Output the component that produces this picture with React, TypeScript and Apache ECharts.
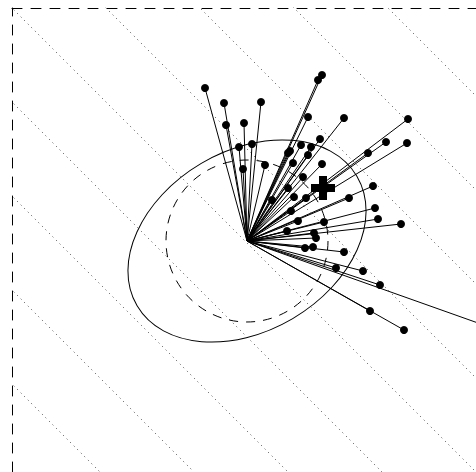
import React, { useEffect, useRef } from "react";
import * as echarts from "echarts";

// Spoke end points (relative to the common origin at 0,0; y up)
const spokeX = [-42, -23, 14, -21, -3, -8, 5, -4, 18, 75, 71, 61, 97, 161, 139, 160, 121, 73, 54, 64, 43, 41, 61, 46, 75, 56, 41, 47, 59, 25, 126, 102, 44, 128, 131, 77, 51, 154, 40, 67, 69, 58, 66, 97, 89, 116, 133, 123, 157];
const spokeY = [153, 138, 139, 116, 118, 94, 97, 72, 76, 166, 161, 124, 123, 122, 99, 98, 88, 102, 96, 94, 90, 88, 86, 78, 77, 64, 53, 44, 43, 41, 55, 43, 30, 33, 22, 19, 20, 17, 10, 8, 3, -7, -6, -11, -27, -30, -44, -70, -89];
// Spoke whose end lies outside the frame (no visible dot)
const openSpokeX = [262];
const openSpokeY = [-93];

const meanPoint = [76, 53];
const ellipseAxes = [127.5, 90];
const ellipseAngleDeg = 30.5;
const circleRadius = 81;
const diagonalIntercepts = [374, 280, 186, 92, -2, -96, -190, -284, -378];
const xRange = [-235, 229];
const yRange = [-231, 233];

const PLUS = "path://M8,0 H16 V8 H24 V16 H16 V24 H8 V16 H0 V8 H8 Z";

export default function App() {
  const ref = useRef<HTMLDivElement>(null);
  useEffect(() => {
    if (!ref.current) return;
    const chart = echarts.init(ref.current, null, { renderer: "svg" });
    const spokeData = spokeX.map((x, i) => ({ coords: [[0, 0], [x, spokeY[i]]] }));
    const openData = openSpokeX.map((x, i) => ({ coords: [[0, 0], [x, openSpokeY[i]]] }));
    const axisBase = {
      type: "value",
      axisLine: { show: true, onZero: false, lineStyle: { color: "#000", width: 1, type: [10, 9] } },
      axisTick: { show: false },
      axisLabel: { show: false },
      splitLine: { show: false },
    };
    chart.setOption({
      animation: false,
      grid: { left: 12, top: 8, right: 0, bottom: 0 },
      xAxis: { ...axisBase, min: xRange[0], max: xRange[1], position: "top" },
      yAxis: { ...axisBase, min: yRange[0], max: yRange[1], position: "left" },
      series: [
        {
          type: "lines",
          coordinateSystem: "cartesian2d",
          clip: true,
          silent: true,
          z: 1,
          lineStyle: { color: "#444", width: 1, type: [1, 4], opacity: 1 },
          data: diagonalIntercepts.map((k) => ({ coords: [[-700, 700 + k], [700, -700 + k]] })),
        },
        {
          type: "custom",
          coordinateSystem: "cartesian2d",
          silent: true,
          z: 2,
          data: [[0, 0]],
          renderItem: (params: any, api: any) => {
            const c = api.coord([0, 0]);
            const rx = api.size([ellipseAxes[0], 0])[0];
            const ry = api.size([0, ellipseAxes[1]])[1];
            const r = api.size([circleRadius, 0])[0];
            return {
              type: "group",
              children: [
                {
                  type: "ellipse",
                  x: c[0],
                  y: c[1],
                  rotation: (ellipseAngleDeg * Math.PI) / 180,
                  shape: { cx: 0, cy: 0, rx, ry },
                  style: { fill: "none", stroke: "#000", lineWidth: 1 },
                },
                {
                  type: "circle",
                  shape: { cx: c[0], cy: c[1], r },
                  style: { fill: "none", stroke: "#000", lineWidth: 1, lineDash: [9, 8] },
                },
              ],
            };
          },
        },
        {
          type: "lines",
          coordinateSystem: "cartesian2d",
          clip: true,
          silent: true,
          z: 3,
          lineStyle: { color: "#000", width: 1, opacity: 1 },
          data: [...spokeData, ...openData],
        },
        {
          type: "scatter",
          silent: true,
          z: 4,
          symbol: "circle",
          symbolSize: 8,
          itemStyle: { color: "#000", opacity: 1 },
          data: spokeX.map((x, i) => [x, spokeY[i]]),
        },
        {
          type: "scatter",
          silent: true,
          z: 5,
          symbol: PLUS,
          symbolSize: 24,
          itemStyle: { color: "#000", opacity: 1 },
          data: [meanPoint],
        },
      ],
    });
    return () => chart.dispose();
  }, []);
  return (
    <div
      ref={ref}
      style={{ position: "fixed", left: 0, top: 0, width: 476, height: 472, background: "#fff" }}
    />
  );
}
